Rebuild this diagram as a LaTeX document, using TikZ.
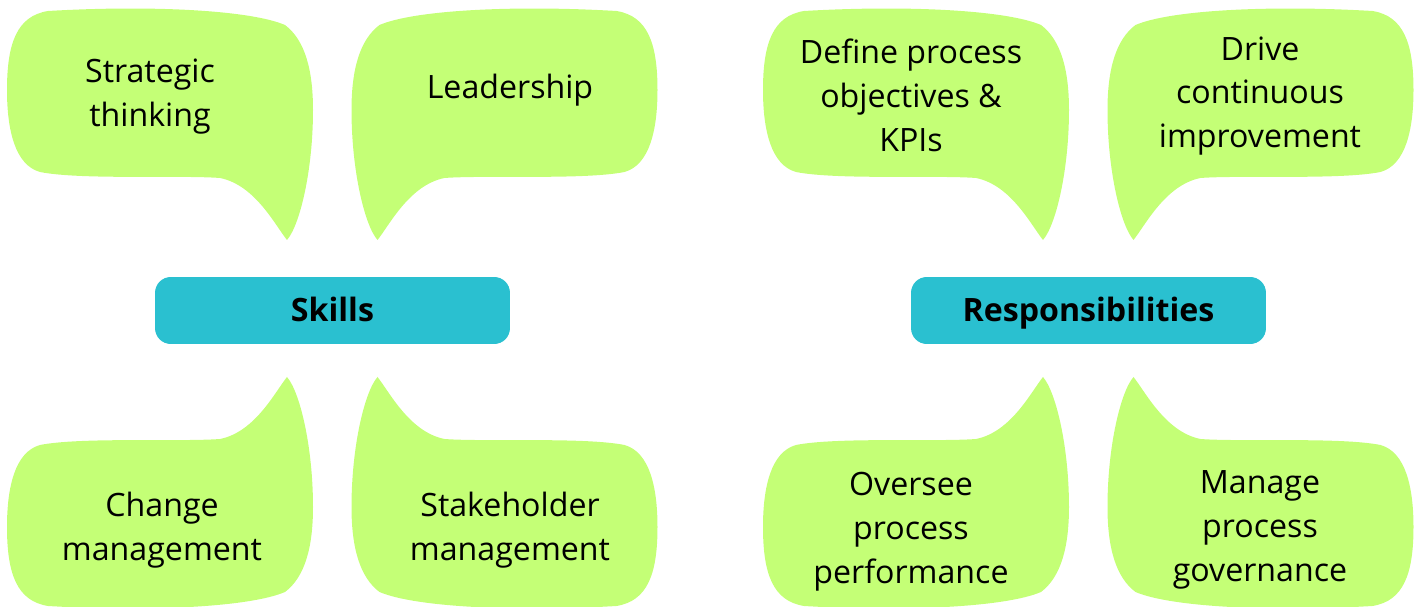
\documentclass[tikz,border=0pt]{standalone}
\usepackage{fontspec}
\setmainfont{Open Sans}
\usepackage{tikz}
\usetikzlibrary{positioning}
\usepackage{xcolor}
\definecolor{bubblegreen}{RGB}{196,255,118}
\definecolor{headteal}{RGB}{42,192,208}

\tikzset{
  bubble/.style={fill=bubblegreen, draw=none},
  btext/.style={align=center, font=\fontsize{18.3}{25}\selectfont, inner sep=0pt},
  headbox/.style={fill=headteal, rounded corners=9pt, minimum width=7.1cm,
                  minimum height=1.34cm, text height=13pt, text depth=0pt,
                  font=\fontsize{18.3}{25}\selectfont\bfseries}
}

\begin{document}
\begin{tikzpicture}[x=0.02cm, y=-0.02cm]
  \useasboundingbox (0,0) rectangle (1418,607);
  % speech bubbles: centre / flip
  \foreach \cx/\cy/\sx/\sy in {160/93/1/1, 504.5/93/-1/1, 160/524/1/-1, 504.5/524/-1/-1,
                               916/93/1/1, 1260.5/93/-1/1, 916/524/1/-1, 1260.5/524/-1/-1}
    \fill[bubble, shift={(\cx,\cy)}, xscale=\sx, yscale=\sy]
      (-112,-82) .. controls (-10,-88) and (90,-83) .. (125,-68)
      .. controls (145,-53) and (153,-23) .. (153,17)
      .. controls (153,77) and (140,132) .. (127,147)
      .. controls (115,132) and (95,92) .. (60,85)
      .. controls (20,82) and (-80,87) .. (-120,79)
      .. controls (-145,72) and (-153,37) .. (-153,-3)
      .. controls (-153,-50) and (-143,-77) .. (-112,-82) -- cycle;

  \node[headbox] (skills) at (332.5,310.5) {Skills};
  \node[headbox] (resp) at (1088.5,310.5) {Responsibilities};

  \node[btext] (strat) at (150,97) {Strategic\\thinking};
  \node[btext] (lead) at (510,90) {Leadership};
  \node[btext] (change) at (162,530) {Change\\management};
  \node[btext] (stake) at (510,530) {Stakeholder\\management};
  \node[btext] (define) at (911,95) {Define process\\objectives \&\\KPIs};
  \node[btext] (drive) at (1260,96) {Drive\\continuous\\improvement};
  \node[btext] (oversee) at (911,532) {Oversee\\process\\performance};
  \node[btext] (manage) at (1260,530) {Manage\\process\\governance};
\end{tikzpicture}
\end{document}
